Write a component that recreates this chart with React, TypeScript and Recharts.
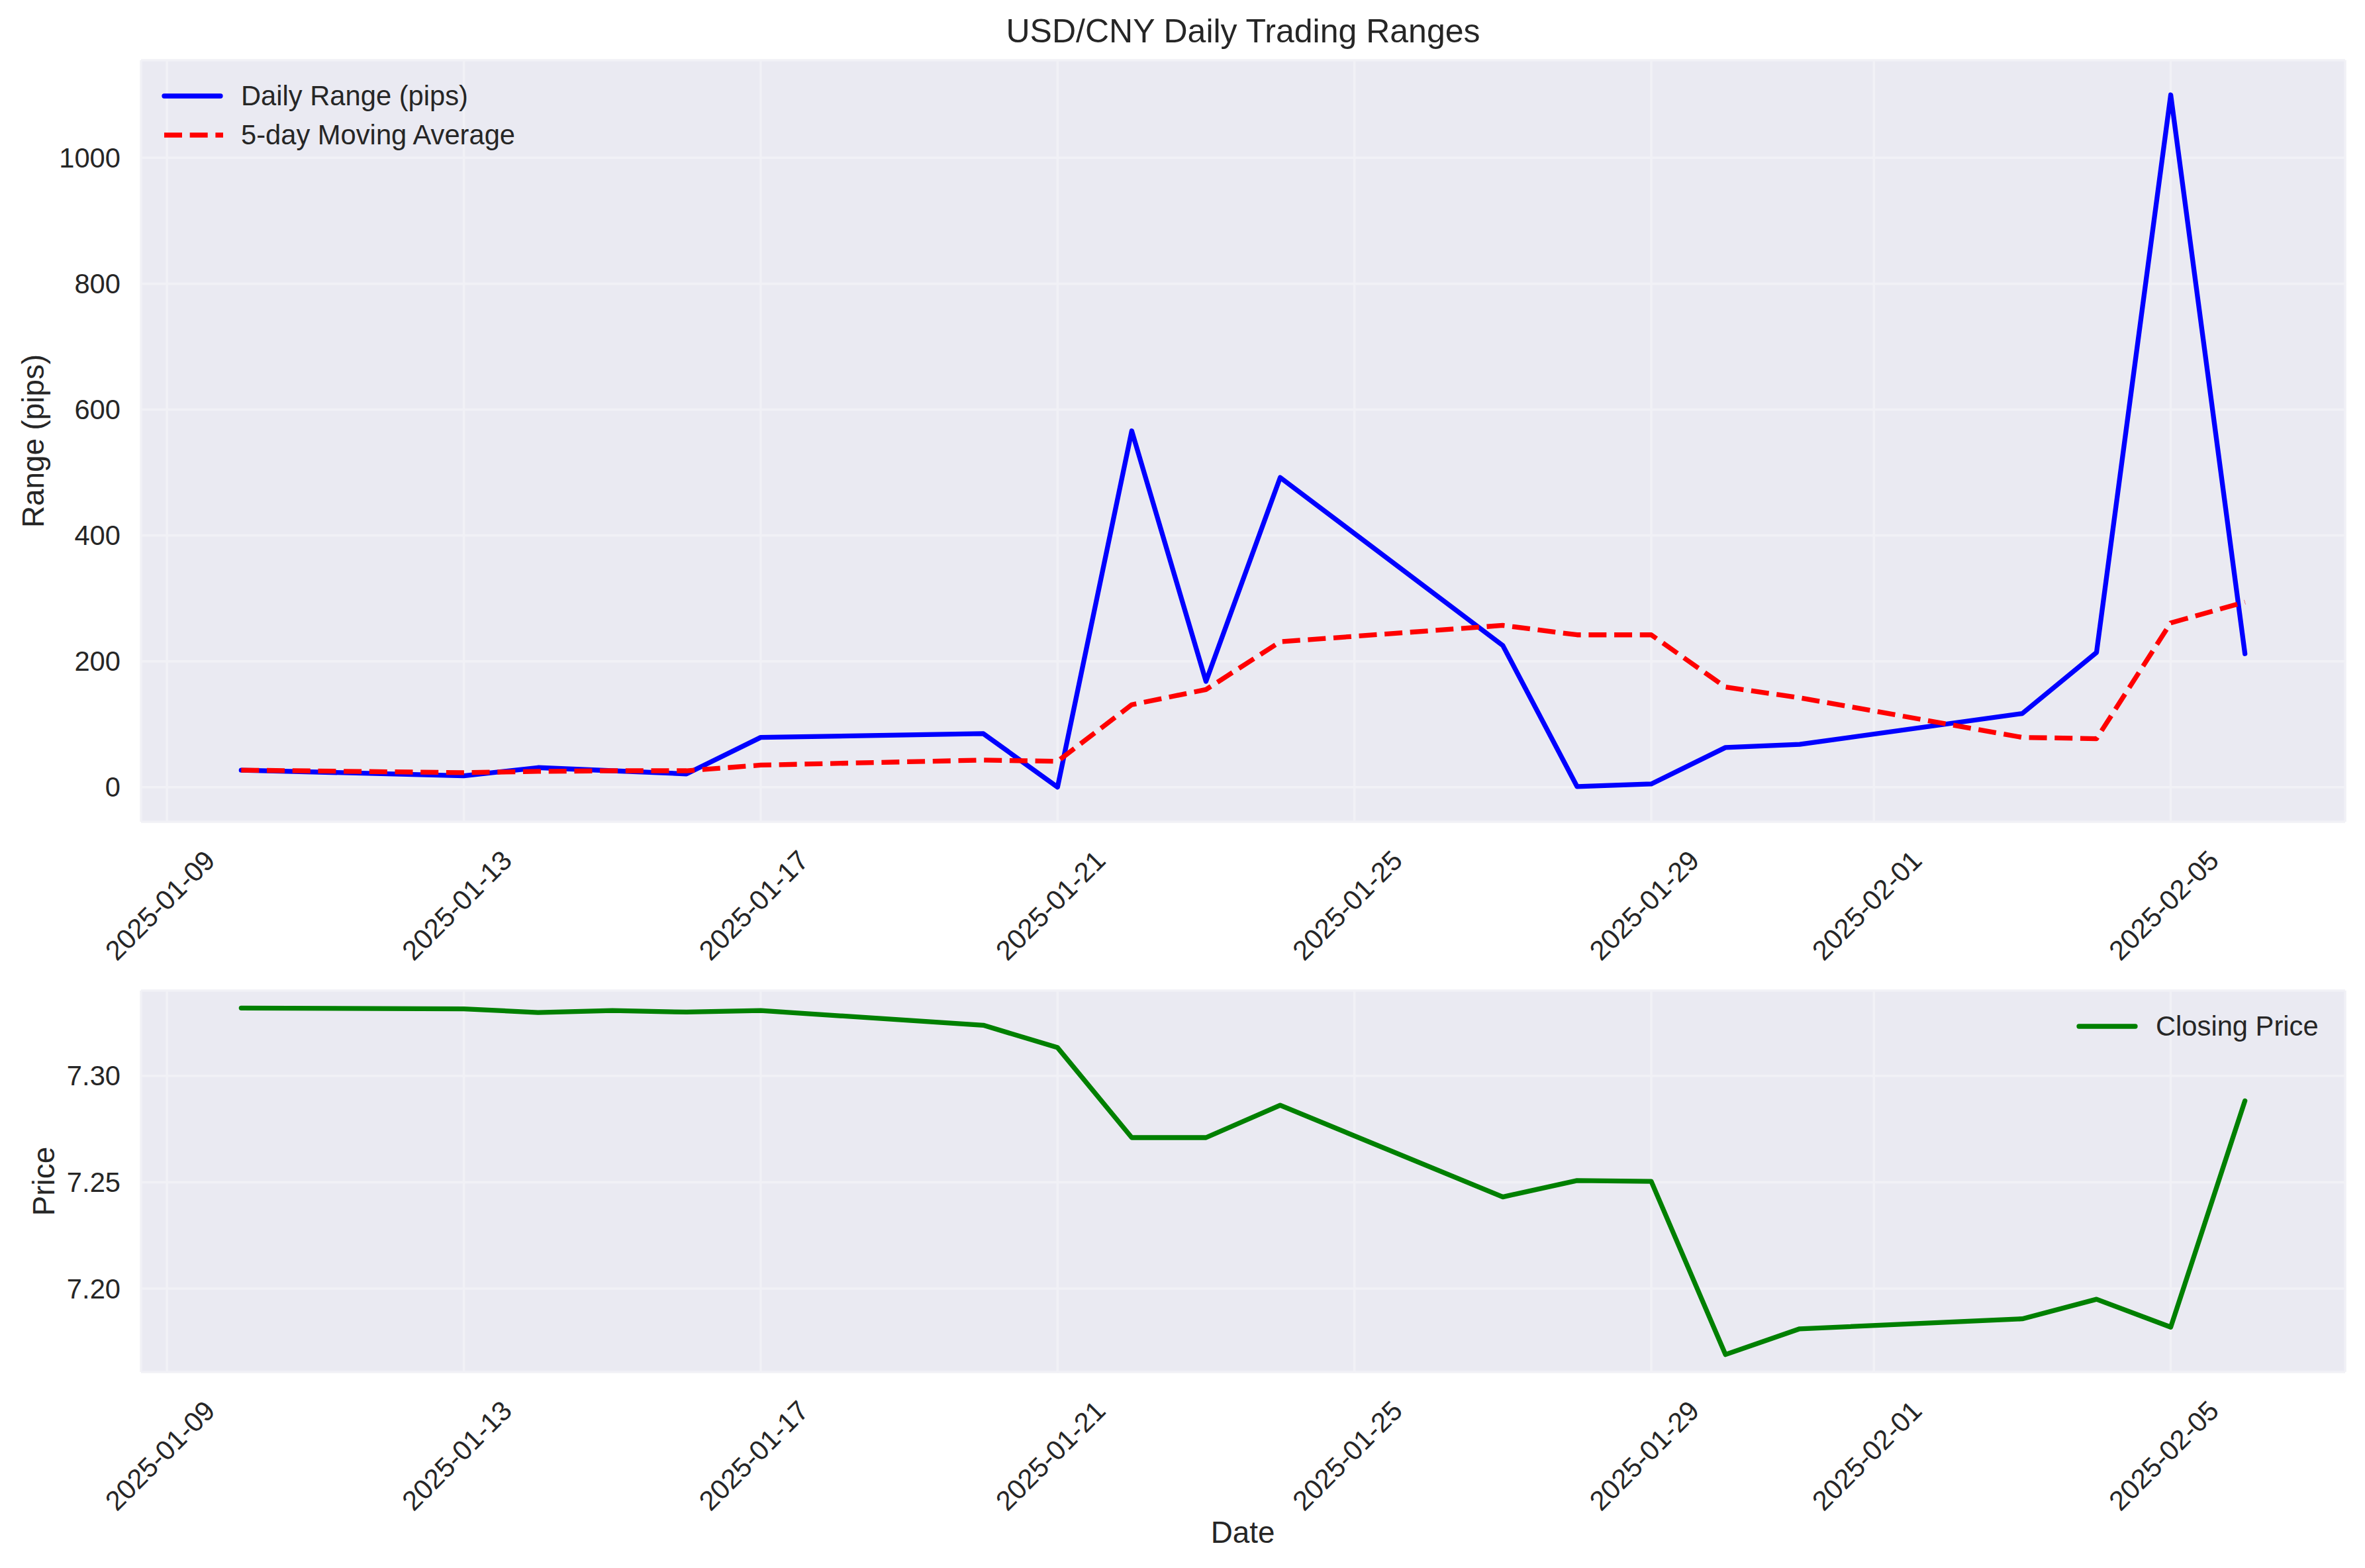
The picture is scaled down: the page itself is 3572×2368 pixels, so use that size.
import { LineChart, Line, XAxis, YAxis, CartesianGrid } from 'recharts';

// 交易日
const dates = [
  '2025-01-10', '2025-01-13', '2025-01-14', '2025-01-15', '2025-01-16',
  '2025-01-17', '2025-01-20', '2025-01-21', '2025-01-22', '2025-01-23',
  '2025-01-24', '2025-01-27', '2025-01-28', '2025-01-29', '2025-01-30',
  '2025-01-31', '2025-02-03', '2025-02-04', '2025-02-05', '2025-02-06',
];
const dailyRange = [27, 18, 31, 26, 21, 79, 85, 0, 566, 168, 492, 225, 1, 5, 63, 68, 117, 214, 1100, 212];
const movingAvg = [27, 23, 25, 26, 26, 35, 43, 41, 131, 155, 231, 257, 242, 242, 159, 142, 79, 77, 261, 294];
const closePrice = [
  7.3319, 7.3315, 7.3298, 7.3307, 7.3300, 7.3307, 7.3238, 7.3133, 7.2710, 7.2710,
  7.2862, 7.2431, 7.2508, 7.2504, 7.1690, 7.1811, 7.1858, 7.1950, 7.1819, 7.2883,
];
const dateTicks = ['2025-01-09', '2025-01-13', '2025-01-17', '2025-01-21', '2025-01-25', '2025-01-29', '2025-02-01', '2025-02-05'];
const rangeTicks = [0, 200, 400, 600, 800, 1000];
const priceTicks = [7.2, 7.25, 7.3];

const dayNum = (s: string) => {
  const [y, m, d] = s.split('-').map(Number);
  return (Date.UTC(y, m - 1, d) - Date.UTC(2025, 0, 0)) / 86400000;
};

const data = dates.map((d, i) => ({
  day: dayNum(d),
  range: dailyRange[i],
  ma: movingAvg[i],
  price: closePrice[i],
}));
const xTicks = dateTicks.map(dayNum);
const tickLabel: Record<number, string> = {};
dateTicks.forEach((t) => (tickLabel[dayNum(t)] = t));

const FONT = '"Liberation Sans", Arial, sans-serif';
const INK = '#262626';
const BG = '#EAEAF2';
const GRID = '#F1F1F6';
const LW = 7.3;

function DateTick({ x, payload, baseY }: any) {
  const ax = x + 75;
  return (
    <text
      x={ax}
      y={baseY}
      textAnchor="end"
      transform={`rotate(-45 ${ax} ${baseY})`}
      fontSize={41.7}
      fontFamily={FONT}
      fill={INK}
    >
      {tickLabel[payload.value]}
    </text>
  );
}

function ValueTick({ y, payload, digits }: any) {
  return (
    <text x={182} y={y} dy="0.35em" textAnchor="end" fontSize={41.7} fontFamily={FONT} fill={INK}>
      {Number(payload.value).toFixed(digits)}
    </text>
  );
}

function LegendRow({ color, dash, label, style }: { color: string; dash?: string; label: string; style: any }) {
  return (
    <div style={{ position: 'absolute', display: 'flex', alignItems: 'center', height: 50, ...style }}>
      <svg width={100} height={20} style={{ marginRight: 22 }}>
        <line
          x1={6}
          y1={10}
          x2={dash ? 95 : 91}
          y2={10}
          stroke={color}
          strokeWidth={LW}
          strokeDasharray={dash}
          strokeLinecap={dash ? 'butt' : 'round'}
        />
      </svg>
      <span style={{ fontSize: 41.7, fontFamily: FONT, color: INK, whiteSpace: 'nowrap' }}>{label}</span>
    </div>
  );
}

export default function App() {
  return (
    <div style={{ position: 'absolute', left: 0, top: 0, width: 3572, height: 2368, background: '#fff', fontFamily: FONT }}>
      {/* 标题 */}
      <div style={{ position: 'absolute', left: 0, width: 3755 - 0, top: 18, textAlign: 'center', fontSize: 50, color: INK }}>
        USD/CNY Daily Trading Ranges
      </div>

      {/* 上图: 日内波幅 */}
      <div style={{ position: 'absolute', left: 0, top: 0 }}>
        <LineChart width={3572} height={1480} data={data} margin={{ top: 91, right: 30, left: 13, bottom: 0 }}>
          <CartesianGrid fill={BG} fillOpacity={1} stroke={GRID} strokeWidth={3.5} />
          <XAxis
            dataKey="day"
            type="number"
            domain={[8.65, 38.35]}
            ticks={xTicks}
            tickLine={false}
            axisLine={false}
            height={239}
            interval={0}
            tick={(p: any) => <DateTick {...p} baseY={1302} />}
          />
          <YAxis
            type="number"
            domain={[-55, 1155]}
            ticks={rangeTicks}
            tickLine={false}
            axisLine={false}
            width={200}
            interval={0}
            tick={(p: any) => <ValueTick {...p} digits={0} />}
          />
          <Line
            type="linear"
            dataKey="range"
            stroke="#0000FF"
            strokeWidth={LW}
            strokeLinejoin="round"
            strokeLinecap="round"
            dot={false}
            isAnimationActive={false}
          />
          <Line
            type="linear"
            dataKey="ma"
            stroke="#FF0000"
            strokeWidth={LW}
            strokeDasharray="27 11.7"
            strokeLinejoin="round"
            dot={false}
            isAnimationActive={false}
          />
        </LineChart>
      </div>

      {/* 下图: 收盘价 */}
      <div style={{ position: 'absolute', left: 0, top: 1400 }}>
        <LineChart width={3572} height={968} data={data} margin={{ top: 96, right: 30, left: 13, bottom: 0 }}>
          <CartesianGrid fill={BG} fillOpacity={1} stroke={GRID} strokeWidth={3.5} />
          <XAxis
            dataKey="day"
            type="number"
            domain={[8.65, 38.35]}
            ticks={xTicks}
            tickLine={false}
            axisLine={false}
            height={296}
            interval={0}
            tick={(p: any) => <DateTick {...p} baseY={733} />}
          />
          <YAxis
            type="number"
            domain={[7.1608, 7.3401]}
            ticks={priceTicks}
            tickLine={false}
            axisLine={false}
            width={200}
            interval={0}
            tick={(p: any) => <ValueTick {...p} digits={2} />}
          />
          <Line
            type="linear"
            dataKey="price"
            stroke="#008000"
            strokeWidth={LW}
            strokeLinejoin="round"
            strokeLinecap="round"
            dot={false}
            isAnimationActive={false}
          />
        </LineChart>
      </div>

      {/* 图例 */}
      <LegendRow color="#0000FF" label="Daily Range (pips)" style={{ left: 242, top: 120 }} />
      <LegendRow color="#FF0000" dash="27 11.7" label="5-day Moving Average" style={{ left: 242, top: 179 }} />
      <LegendRow color="#008000" label="Closing Price" style={{ left: 3134, top: 1525 }} />

      {/* 轴标题 */}
      <svg width={3572} height={2368} style={{ position: 'absolute', left: 0, top: 0, pointerEvents: 'none' }}>
        <text x={66} y={666} textAnchor="middle" transform="rotate(-90 66 666)" fontSize={45.8} fontFamily={FONT} fill={INK}>
          Range (pips)
        </text>
        <text x={82} y={1784} textAnchor="middle" transform="rotate(-90 82 1784)" fontSize={45.8} fontFamily={FONT} fill={INK}>
          Price
        </text>
        <text x={1877} y={2330} textAnchor="middle" fontSize={45.8} fontFamily={FONT} fill={INK}>
          Date
        </text>
      </svg>
    </div>
  );
}
